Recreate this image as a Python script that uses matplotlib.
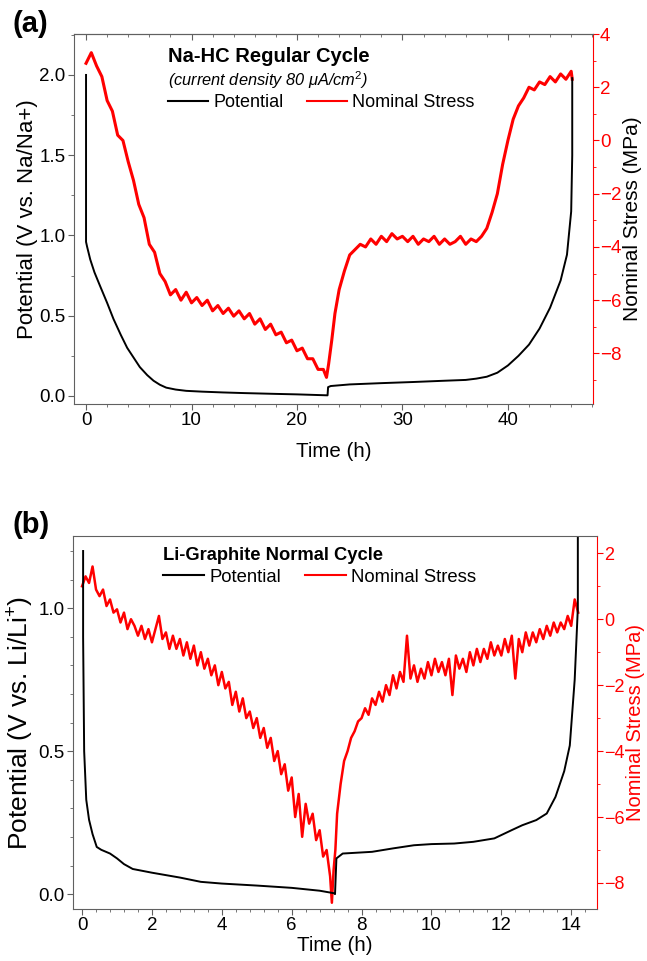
import numpy as np
import matplotlib
matplotlib.use('Agg')
import matplotlib.pyplot as plt
from matplotlib.ticker import MultipleLocator
from matplotlib.lines import Line2D

plt.rcParams['font.family'] = ['Liberation Sans', 'DejaVu Sans']
plt.rcParams['mathtext.fontset'] = 'custom'
plt.rcParams['mathtext.rm'] = 'Liberation Sans'
plt.rcParams['mathtext.it'] = 'Liberation Sans:italic'

RED = '#ff0000'
GREY = '#606060'

# ---- (a) Na-HC regular cycle ----
na_pot_t = [0.0, 0.0, 0.1, 0.4, 0.8, 1.3, 2.0, 2.6, 3.3, 3.9, 4.5, 5.1, 5.8, 6.4, 7.0,
            7.6, 8.5, 9.5, 11, 13, 15, 18, 20, 22.9, 22.95, 23.2, 25, 28, 31, 34,
            36, 37, 38, 39, 40, 41, 42, 43, 44, 45, 45.6, 46.0, 46.1, 46.1]
na_pot_v = [2.0, 0.96, 0.93, 0.85, 0.77, 0.69, 0.58, 0.48, 0.38, 0.30, 0.24, 0.18, 0.13,
            0.095, 0.07, 0.052, 0.04, 0.032, 0.027, 0.022, 0.018, 0.013, 0.01, 0.004,
            0.055, 0.062, 0.072, 0.08, 0.087, 0.095, 0.1, 0.108, 0.12, 0.145, 0.19, 0.25,
            0.32, 0.42, 0.55, 0.72, 0.88, 1.15, 1.5, 1.98]

na_stress_t = [0.0, 0.5, 1.0, 1.5, 2.0, 2.5, 3.0, 3.5, 4.0, 4.5, 5.0, 5.5, 6.0, 6.5, 7.0,
               7.5, 8.0, 8.5, 9.0, 9.5, 10.0, 10.5, 11.0, 11.5, 12.0, 12.5, 13.0, 13.5,
               14.0, 14.5, 15.0, 15.5, 16.0, 16.5, 17.0, 17.5, 18.0, 18.5, 19.0, 19.5,
               20.0, 20.5, 21.0, 21.5, 22.0, 22.5, 22.8, 23.0, 23.3, 23.6, 24.0, 24.5,
               25.0, 25.5, 26.0, 26.5, 27.0, 27.5, 28.0, 28.5, 29.0, 29.5, 30.0, 30.5,
               31.0, 31.5, 32.0, 32.5, 33.0, 33.5, 34.0, 34.5, 35.0, 35.5, 36.0, 36.5,
               37.0, 37.5, 38.0, 38.5, 39.0, 39.5, 40.0, 40.5, 41.0, 41.5, 42.0, 42.5,
               43.0, 43.5, 44.0, 44.5, 45.0, 45.5, 46.0, 46.1]
na_stress_v = [2.9, 3.3, 2.8, 2.4, 1.5, 1.1, 0.2, 0.0, -0.8, -1.5, -2.4, -2.9, -3.9, -4.2,
               -5.0, -5.3, -5.8, -5.6, -6.0, -5.7, -6.1, -5.9, -6.2, -6.0, -6.4, -6.2,
               -6.5, -6.3, -6.6, -6.4, -6.7, -6.5, -6.9, -6.7, -7.1, -6.9, -7.3, -7.2,
               -7.6, -7.5, -7.9, -7.8, -8.2, -8.2, -8.6, -8.6, -8.9, -8.4, -7.5, -6.5,
               -5.6, -4.9, -4.3, -4.1, -3.9, -4.0, -3.7, -3.9, -3.6, -3.8, -3.5, -3.7,
               -3.6, -3.8, -3.6, -3.9, -3.7, -3.8, -3.6, -3.9, -3.7, -3.9, -3.8, -3.6,
               -3.9, -3.7, -3.8, -3.6, -3.3, -2.7, -2.0, -0.9, 0.0, 0.8, 1.3, 1.6, 2.0,
               1.9, 2.2, 2.1, 2.4, 2.2, 2.5, 2.3, 2.6, 2.3]

# ---- (b) Li-graphite normal cycle ----
li_pot_t = [0.03, 0.03, 0.06, 0.12, 0.2, 0.3, 0.42, 0.55, 0.8, 1.0, 1.2, 1.45, 2.0, 2.8,
            3.4, 4.0, 5.0, 6.0, 6.8, 7.22, 7.24, 7.28, 7.46, 8.3, 8.9, 9.5, 10.0, 10.65,
            11.2, 11.8, 12.3, 12.6, 13.0, 13.3, 13.55, 13.8, 13.96, 14.1, 14.19, 14.19]
li_pot_v = [1.2, 0.9, 0.5, 0.33, 0.26, 0.21, 0.165, 0.155, 0.142, 0.125, 0.105, 0.088,
            0.075, 0.058, 0.043, 0.037, 0.03, 0.022, 0.012, 0.003, 0.0, 0.125, 0.142,
            0.148, 0.16, 0.171, 0.175, 0.177, 0.183, 0.195, 0.224, 0.241, 0.259, 0.282,
            0.34, 0.43, 0.52, 0.75, 1.0, 1.26]

li_stress_t = [0.0, 0.1, 0.2, 0.3, 0.4, 0.5, 0.6, 0.7, 0.8, 0.9, 1.0, 1.1, 1.2, 1.3, 1.4,
               1.5, 1.6, 1.7, 1.8, 1.9, 2.0, 2.1, 2.2, 2.3, 2.4, 2.5, 2.6, 2.7, 2.8, 2.9,
               3.0, 3.1, 3.2, 3.3, 3.4, 3.5, 3.6, 3.7, 3.8, 3.9, 4.0, 4.1, 4.2, 4.3, 4.4,
               4.5, 4.6, 4.7, 4.8, 4.9, 5.0, 5.1, 5.2, 5.3, 5.4, 5.5, 5.6, 5.7, 5.8, 5.9,
               6.0, 6.1, 6.2, 6.3, 6.4, 6.5, 6.6, 6.7, 6.8, 6.9, 7.0, 7.1, 7.15, 7.2,
               7.25, 7.3, 7.4, 7.5, 7.6, 7.7, 7.8, 7.9, 8.0, 8.1, 8.2, 8.3, 8.4, 8.5,
               8.6, 8.7, 8.8, 8.9, 9.0, 9.1, 9.2, 9.3, 9.4, 9.5, 9.6, 9.7, 9.8, 9.9,
               10.0, 10.1, 10.2, 10.3, 10.4, 10.5, 10.6, 10.7, 10.8, 10.9, 11.0, 11.1,
               11.2, 11.3, 11.4, 11.5, 11.6, 11.7, 11.8, 11.9, 12.0, 12.1, 12.2, 12.3,
               12.4, 12.5, 12.6, 12.7, 12.8, 12.9, 13.0, 13.1, 13.2, 13.3, 13.4, 13.5,
               13.6, 13.7, 13.8, 13.9, 14.0, 14.1, 14.2]
li_stress_v = [1.0, 1.3, 1.1, 1.6, 0.9, 0.7, 0.9, 0.4, 0.6, 0.2, 0.3, -0.1, 0.2, -0.3,
               0.0, -0.2, -0.5, -0.2, -0.6, -0.3, -0.7, -0.3, 0.1, -0.6, -0.4, -0.9,
               -0.5, -0.9, -0.6, -1.1, -0.7, -1.2, -0.8, -1.4, -1.0, -1.5, -1.2, -1.7,
               -1.4, -2.0, -1.6, -2.1, -1.9, -2.6, -2.2, -2.8, -2.4, -3.0, -2.8, -3.3,
               -3.0, -3.6, -3.3, -3.9, -3.6, -4.3, -4.0, -4.7, -4.4, -5.2, -4.8, -6.0,
               -5.3, -6.6, -5.6, -6.2, -5.9, -6.7, -6.4, -7.2, -7.0, -7.8, -8.6, -7.6,
               -7.0, -5.9, -5.0, -4.3, -4.0, -3.6, -3.4, -3.1, -3.0, -2.7, -2.9, -2.4,
               -2.6, -2.2, -2.5, -2.0, -2.3, -1.7, -2.1, -1.6, -1.9, -0.5, -1.8, -1.4,
               -1.9, -1.5, -1.8, -1.3, -1.7, -1.2, -1.6, -1.3, -1.7, -1.2, -2.3, -1.1,
               -1.5, -1.2, -1.6, -1.0, -1.4, -0.9, -1.3, -0.9, -1.2, -0.7, -1.1, -0.8,
               -1.1, -0.6, -1.0, -0.5, -1.8, -0.6, -1.0, -0.4, -0.8, -0.4, -0.7, -0.3,
               -0.6, -0.2, -0.5, -0.1, -0.4, -0.1, -0.3, 0.1, -0.2, 0.6, 0.2]

fig = plt.figure(figsize=(6.47, 9.61), dpi=100)


def style_axes(ax, axr):
    for side in ['left', 'bottom', 'top']:
        ax.spines[side].set_color(GREY)
    ax.spines['right'].set_visible(False)
    axr.spines['right'].set_color(RED)
    for s in ['left', 'bottom', 'top']:
        axr.spines[s].set_visible(False)
    ax.tick_params(which='both', direction='out', labelsize=13.5, color=GREY,
                   top=False, right=False, pad=2)
    ax.tick_params(which='major', length=4)
    ax.tick_params(which='minor', length=2.5)
    axr.tick_params(which='both', direction='out', labelsize=13.5, colors=RED, pad=1)
    axr.tick_params(which='major', length=4)
    axr.tick_params(which='minor', length=2.5)


def legend(ax, x, y, size):
    handles = [Line2D([], [], color='black', lw=1.5),
               Line2D([], [], color=RED, lw=1.5)]
    ax.legend(handles, ['Potential', 'Nominal Stress'], ncol=2, frameon=False,
              loc='center left', bbox_to_anchor=(x, y), fontsize=size,
              borderpad=0, borderaxespad=0, handlelength=2.2,
              handletextpad=0.3, columnspacing=1.3)


# panel (a)
ax1 = fig.add_axes([0.1144, 0.5796, 0.802, 0.385])
ax1r = ax1.twinx()
ax1r.plot(na_stress_t, na_stress_v, color=RED, lw=2.2)
ax1.plot(na_pot_t, na_pot_v, color='black', lw=1.4)
ax1.set_zorder(ax1r.get_zorder() + 1)
ax1.patch.set_visible(False)
ax1.set_xlim(-1.14, 48.06)
ax1.set_ylim(-0.05, 2.255)
ax1r.set_ylim(-9.9, 4.0)
ax1.xaxis.set_major_locator(MultipleLocator(10))
ax1.xaxis.set_minor_locator(MultipleLocator(2))
ax1.yaxis.set_major_locator(MultipleLocator(0.5))
ax1.yaxis.set_minor_locator(MultipleLocator(0.25))
ax1r.set_yticks([-8, -6, -4, -2, 0, 2, 4])
ax1r.set_yticklabels(['\u22128', '\u22126', '\u22124', '\u22122', '0', '2', '4'])
ax1r.yaxis.set_minor_locator(MultipleLocator(1))
style_axes(ax1, ax1r)
top = ax1.secondary_xaxis('top')
top.xaxis.set_major_locator(MultipleLocator(10))
top.xaxis.set_minor_locator(MultipleLocator(2))
top.tick_params(which='both', direction='in', labeltop=False, color=GREY)
top.tick_params(which='major', length=4)
top.tick_params(which='minor', length=2.5)
top.spines['top'].set_color(GREY)
ax1.set_xlabel('Time (h)', fontsize=14.8, labelpad=9)
ax1.set_ylabel('Potential (V vs. Na/Na+)', fontsize=16, labelpad=1)
ax1r.set_ylabel('Nominal Stress (MPa)', fontsize=15, color='black', labelpad=1)
ax1.text(0.181, 0.938, 'Na-HC Regular Cycle', transform=ax1.transAxes,
         fontsize=14.5, fontweight='bold', va='center')
ax1.text(0.181, 0.876, r'(current density 80 $\mu$A/cm$^2$)', transform=ax1.transAxes,
         fontsize=11.8, style='italic', va='center')
legend(ax1, 0.181, 0.814, 13)
fig.text(0.02, 0.975, '(a)', fontsize=21, fontweight='bold', va='center')

# panel (b)
ax2 = fig.add_axes([0.1128, 0.0541, 0.810, 0.388])
ax2r = ax2.twinx()
ax2r.plot(li_stress_t, li_stress_v, color=RED, lw=1.8)
ax2.plot(li_pot_t, li_pot_v, color='black', lw=1.4)
ax2.set_zorder(ax2r.get_zorder() + 1)
ax2.patch.set_visible(False)
ax2.set_xlim(-0.26, 14.74)
ax2.set_ylim(-0.052, 1.252)
ax2r.set_ylim(-8.79, 2.52)
ax2.xaxis.set_major_locator(MultipleLocator(2))
ax2.xaxis.set_minor_locator(MultipleLocator(0.4))
ax2.yaxis.set_major_locator(MultipleLocator(0.5))
ax2.yaxis.set_minor_locator(MultipleLocator(0.1))
ax2r.set_yticks([-8, -6, -4, -2, 0, 2])
ax2r.set_yticklabels(['\u22128', '\u22126', '\u22124', '\u22122', '0', '2'])
ax2r.yaxis.set_minor_locator(MultipleLocator(1))
style_axes(ax2, ax2r)
ax2r.tick_params(labelsize=13)
ax2.set_xlabel('Time (h)', fontsize=14.8, labelpad=1)
ax2.set_ylabel('Potential (V vs. Li/Li$^{+}$)', fontsize=19, labelpad=2)
ax2r.set_ylabel('Nominal Stress (MPa)', fontsize=14.5, color=RED, labelpad=1)
ax2.text(0.172, 0.949, 'Li-Graphite Normal Cycle', transform=ax2.transAxes,
         fontsize=13.2, fontweight='bold', va='center')
legend(ax2, 0.172, 0.890, 13.3)
fig.text(0.02, 0.454, '(b)', fontsize=21, fontweight='bold', va='center')

fig.savefig('out.png', dpi=100)
